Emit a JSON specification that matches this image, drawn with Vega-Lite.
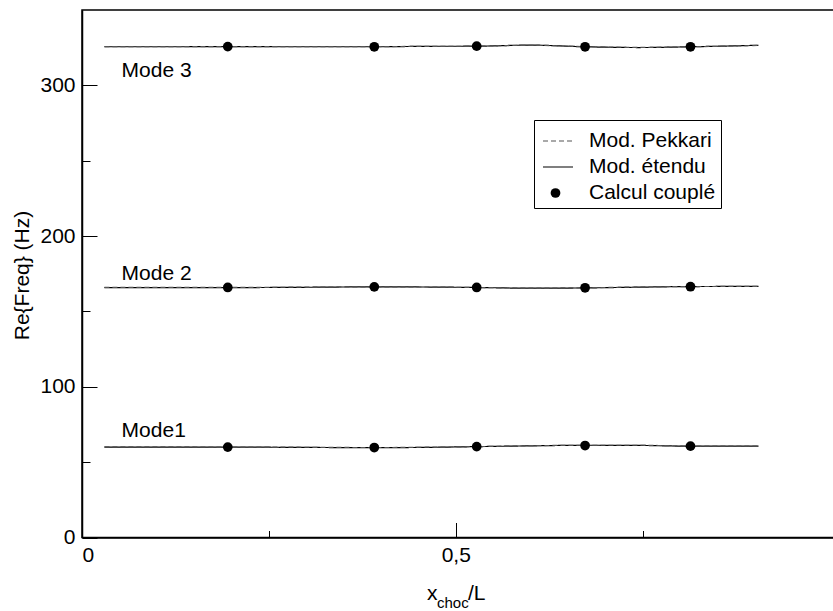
{
  "$schema": "https://vega.github.io/schema/vega-lite/v6.json",
  "width": 752,
  "height": 527.5,
  "autosize": {"type": "none"},
  "padding": {"left": 82, "top": 10, "right": 0, "bottom": 73},
  "background": "white",
  "config": {
    "view": {"stroke": "black", "strokeWidth": 1.5},
    "font": "Liberation Sans",
    "axis": {
      "grid": false,
      "domainColor": "black",
      "domainWidth": 1.5,
      "tickColor": "black",
      "tickWidth": 1,
      "labelFont": "Liberation Sans",
      "labelFontSize": 21,
      "labelColor": "black",
      "titleFont": "Liberation Sans",
      "titleFontSize": 21,
      "titleFontWeight": "normal",
      "titleColor": "black"
    },
    "legend": {
      "labelFont": "Liberation Sans",
      "labelColor": "black"
    }
  },
  "datasets": {
    "lines": [
      {"mode": "Mode 1", "model": "Mod. étendu", "x": 0.03, "y": 60.0},
      {"mode": "Mode 1", "model": "Mod. étendu", "x": 0.11, "y": 60.0},
      {"mode": "Mode 1", "model": "Mod. étendu", "x": 0.195, "y": 60.0},
      {"mode": "Mode 1", "model": "Mod. étendu", "x": 0.29, "y": 59.8},
      {"mode": "Mode 1", "model": "Mod. étendu", "x": 0.391, "y": 59.6},
      {"mode": "Mode 1", "model": "Mod. étendu", "x": 0.46, "y": 59.8},
      {"mode": "Mode 1", "model": "Mod. étendu", "x": 0.528, "y": 60.3},
      {"mode": "Mode 1", "model": "Mod. étendu", "x": 0.6, "y": 60.8},
      {"mode": "Mode 1", "model": "Mod. étendu", "x": 0.673, "y": 61.2},
      {"mode": "Mode 1", "model": "Mod. étendu", "x": 0.745, "y": 61.1},
      {"mode": "Mode 1", "model": "Mod. étendu", "x": 0.814, "y": 60.6},
      {"mode": "Mode 1", "model": "Mod. étendu", "x": 0.905, "y": 60.6},
      {"mode": "Mode 2", "model": "Mod. étendu", "x": 0.03, "y": 165.8},
      {"mode": "Mode 2", "model": "Mod. étendu", "x": 0.11, "y": 165.8},
      {"mode": "Mode 2", "model": "Mod. étendu", "x": 0.195, "y": 165.8},
      {"mode": "Mode 2", "model": "Mod. étendu", "x": 0.29, "y": 166.0},
      {"mode": "Mode 2", "model": "Mod. étendu", "x": 0.391, "y": 166.3},
      {"mode": "Mode 2", "model": "Mod. étendu", "x": 0.46, "y": 166.2},
      {"mode": "Mode 2", "model": "Mod. étendu", "x": 0.528, "y": 165.9},
      {"mode": "Mode 2", "model": "Mod. étendu", "x": 0.6, "y": 165.4},
      {"mode": "Mode 2", "model": "Mod. étendu", "x": 0.673, "y": 165.6},
      {"mode": "Mode 2", "model": "Mod. étendu", "x": 0.745, "y": 166.1},
      {"mode": "Mode 2", "model": "Mod. étendu", "x": 0.814, "y": 166.5},
      {"mode": "Mode 2", "model": "Mod. étendu", "x": 0.905, "y": 166.6},
      {"mode": "Mode 3", "model": "Mod. étendu", "x": 0.03, "y": 325.6},
      {"mode": "Mode 3", "model": "Mod. étendu", "x": 0.11, "y": 325.6},
      {"mode": "Mode 3", "model": "Mod. étendu", "x": 0.195, "y": 325.7},
      {"mode": "Mode 3", "model": "Mod. étendu", "x": 0.29, "y": 325.6},
      {"mode": "Mode 3", "model": "Mod. étendu", "x": 0.391, "y": 325.6},
      {"mode": "Mode 3", "model": "Mod. étendu", "x": 0.46, "y": 325.9},
      {"mode": "Mode 3", "model": "Mod. étendu", "x": 0.528, "y": 326.0},
      {"mode": "Mode 3", "model": "Mod. étendu", "x": 0.6, "y": 326.7},
      {"mode": "Mode 3", "model": "Mod. étendu", "x": 0.673, "y": 325.6},
      {"mode": "Mode 3", "model": "Mod. étendu", "x": 0.745, "y": 325.1},
      {"mode": "Mode 3", "model": "Mod. étendu", "x": 0.814, "y": 325.6},
      {"mode": "Mode 3", "model": "Mod. étendu", "x": 0.905, "y": 326.6},
      {"mode": "Mode 1", "model": "Mod. Pekkari", "x": 0.03, "y": 60.1},
      {"mode": "Mode 1", "model": "Mod. Pekkari", "x": 0.11, "y": 60.1},
      {"mode": "Mode 1", "model": "Mod. Pekkari", "x": 0.195, "y": 60.0},
      {"mode": "Mode 1", "model": "Mod. Pekkari", "x": 0.29, "y": 59.9},
      {"mode": "Mode 1", "model": "Mod. Pekkari", "x": 0.391, "y": 59.7},
      {"mode": "Mode 1", "model": "Mod. Pekkari", "x": 0.46, "y": 59.9},
      {"mode": "Mode 1", "model": "Mod. Pekkari", "x": 0.528, "y": 60.3},
      {"mode": "Mode 1", "model": "Mod. Pekkari", "x": 0.6, "y": 60.9},
      {"mode": "Mode 1", "model": "Mod. Pekkari", "x": 0.673, "y": 61.2},
      {"mode": "Mode 1", "model": "Mod. Pekkari", "x": 0.745, "y": 61.2},
      {"mode": "Mode 1", "model": "Mod. Pekkari", "x": 0.814, "y": 60.7},
      {"mode": "Mode 1", "model": "Mod. Pekkari", "x": 0.905, "y": 60.7},
      {"mode": "Mode 2", "model": "Mod. Pekkari", "x": 0.03, "y": 165.9},
      {"mode": "Mode 2", "model": "Mod. Pekkari", "x": 0.11, "y": 165.9},
      {"mode": "Mode 2", "model": "Mod. Pekkari", "x": 0.195, "y": 165.9},
      {"mode": "Mode 2", "model": "Mod. Pekkari", "x": 0.29, "y": 166.1},
      {"mode": "Mode 2", "model": "Mod. Pekkari", "x": 0.391, "y": 166.3},
      {"mode": "Mode 2", "model": "Mod. Pekkari", "x": 0.46, "y": 166.2},
      {"mode": "Mode 2", "model": "Mod. Pekkari", "x": 0.528, "y": 165.9},
      {"mode": "Mode 2", "model": "Mod. Pekkari", "x": 0.6, "y": 165.5},
      {"mode": "Mode 2", "model": "Mod. Pekkari", "x": 0.673, "y": 165.7},
      {"mode": "Mode 2", "model": "Mod. Pekkari", "x": 0.745, "y": 166.2},
      {"mode": "Mode 2", "model": "Mod. Pekkari", "x": 0.814, "y": 166.5},
      {"mode": "Mode 2", "model": "Mod. Pekkari", "x": 0.905, "y": 166.6},
      {"mode": "Mode 3", "model": "Mod. Pekkari", "x": 0.03, "y": 325.7},
      {"mode": "Mode 3", "model": "Mod. Pekkari", "x": 0.11, "y": 325.7},
      {"mode": "Mode 3", "model": "Mod. Pekkari", "x": 0.195, "y": 325.7},
      {"mode": "Mode 3", "model": "Mod. Pekkari", "x": 0.29, "y": 325.7},
      {"mode": "Mode 3", "model": "Mod. Pekkari", "x": 0.391, "y": 325.7},
      {"mode": "Mode 3", "model": "Mod. Pekkari", "x": 0.46, "y": 325.9},
      {"mode": "Mode 3", "model": "Mod. Pekkari", "x": 0.528, "y": 326.0},
      {"mode": "Mode 3", "model": "Mod. Pekkari", "x": 0.6, "y": 326.6},
      {"mode": "Mode 3", "model": "Mod. Pekkari", "x": 0.673, "y": 325.7},
      {"mode": "Mode 3", "model": "Mod. Pekkari", "x": 0.745, "y": 325.2},
      {"mode": "Mode 3", "model": "Mod. Pekkari", "x": 0.814, "y": 325.6},
      {"mode": "Mode 3", "model": "Mod. Pekkari", "x": 0.905, "y": 326.5}
    ],
    "points": [
      {"mode": "Mode 1", "model": "Calcul couplé", "x": 0.195, "y": 60.0},
      {"mode": "Mode 1", "model": "Calcul couplé", "x": 0.391, "y": 59.7},
      {"mode": "Mode 1", "model": "Calcul couplé", "x": 0.528, "y": 60.3},
      {"mode": "Mode 1", "model": "Calcul couplé", "x": 0.673, "y": 61.0},
      {"mode": "Mode 1", "model": "Calcul couplé", "x": 0.814, "y": 60.6},
      {"mode": "Mode 2", "model": "Calcul couplé", "x": 0.195, "y": 165.9},
      {"mode": "Mode 2", "model": "Calcul couplé", "x": 0.391, "y": 166.3},
      {"mode": "Mode 2", "model": "Calcul couplé", "x": 0.528, "y": 165.9},
      {"mode": "Mode 2", "model": "Calcul couplé", "x": 0.673, "y": 165.7},
      {"mode": "Mode 2", "model": "Calcul couplé", "x": 0.814, "y": 166.4},
      {"mode": "Mode 3", "model": "Calcul couplé", "x": 0.195, "y": 325.7},
      {"mode": "Mode 3", "model": "Calcul couplé", "x": 0.391, "y": 325.6},
      {"mode": "Mode 3", "model": "Calcul couplé", "x": 0.528, "y": 326.0},
      {"mode": "Mode 3", "model": "Calcul couplé", "x": 0.673, "y": 325.6},
      {"mode": "Mode 3", "model": "Calcul couplé", "x": 0.814, "y": 325.6}
    ],
    "labels": [
      {"text": "Mode1", "x": 0.053, "y": 67.0},
      {"text": "Mode 2", "x": 0.053, "y": 171.1},
      {"text": "Mode 3", "x": 0.053, "y": 305.3}
    ],
    "xtitle": [
      {"text": "x", "x": 0.4615, "y": -41.5},
      {"text": "/L", "x": 0.5164, "y": -41.5}
    ],
    "xtitlesub": [
      {"text": "choc", "x": 0.4749, "y": -46.8}
    ]
  },
  "layer": [
    {
      "data": {"name": "lines"},
      "mark": {"type": "line", "interpolate": "monotone", "strokeWidth": 1.2},
      "encoding": {
        "x": {
          "field": "x", "type": "quantitative",
          "scale": {"domain": [0, 1.006], "nice": false, "zero": false},
          "axis": {
            "values": [0, 0.25, 0.5, 0.75],
            "labelExpr": "datum.value == 0 ? '0' : (datum.value == 0.5 ? '0,5' : '')",
            "tickSize": {"condition": {"test": "datum.value == 0.5 || datum.value == 0", "value": -15}, "value": -7},
            "labelPadding": 22,
            "title": null
          }
        },
        "y": {
          "field": "y", "type": "quantitative",
          "scale": {"domain": [0, 350], "nice": false},
          "axis": {
            "values": [0, 50, 100, 150, 200, 250, 300],
            "labelExpr": "datum.value % 100 == 0 ? datum.label : ''",
            "tickSize": {"condition": {"test": "datum.value % 100 == 0", "value": -15}, "value": -8},
            "labelPadding": 22,
            "title": "Re{Freq} (Hz)",
            "titleAngle": 270,
            "titleBaseline": "alphabetic",
            "titleAlign": "center",
            "titleX": -54,
            "titleY": 265
          }
        },
        "detail": {"field": "mode"},
        "strokeDash": {
          "field": "model", "type": "nominal",
          "scale": {"domain": ["Mod. Pekkari", "Mod. étendu", "Calcul couplé"], "range": [[5, 3], [1, 0], [0, 100]]},
          "legend": {
            "title": null, "orient": "none", "legendX": 452, "legendY": 110,
            "strokeColor": "black", "padding": 5, "symbolOffset": 3,
            "symbolType": "stroke", "symbolSize": 900, "symbolStrokeWidth": 1.2,
            "labelFontSize": 21, "labelOffset": 15, "rowPadding": -4.7
          }
        },
        "stroke": {
          "field": "model", "type": "nominal",
          "scale": {"domain": ["Mod. Pekkari", "Mod. étendu", "Calcul couplé"], "range": ["#555555", "#000000", "#000000"]},
          "legend": {
            "title": null, "orient": "none", "legendX": 452, "legendY": 110,
            "strokeColor": "black", "padding": 5, "symbolOffset": 3,
            "symbolType": "stroke", "symbolSize": 900, "symbolStrokeWidth": 1.2,
            "labelFontSize": 21, "labelOffset": 15, "rowPadding": -4.7
          }
        }
      }
    },
    {
      "data": {"name": "points"},
      "mark": {"type": "circle", "size": 95, "opacity": 1},
      "encoding": {
        "x": {"field": "x", "type": "quantitative"},
        "y": {"field": "y", "type": "quantitative"},
        "color": {
          "field": "model", "type": "nominal",
          "scale": {"domain": ["Calcul couplé"], "range": ["#000000"]},
          "legend": {
            "title": null, "orient": "none", "legendX": 467.5, "legendY": 177,
            "labelExpr": "''", "labelFontSize": 1, "padding": 0,
            "symbolSize": 95, "symbolType": "circle", "symbolOpacity": 1
          }
        }
      }
    },
    {
      "data": {"name": "labels"},
      "mark": {"type": "text", "align": "left", "baseline": "alphabetic", "fontSize": 21, "font": "Liberation Sans", "color": "black"},
      "encoding": {
        "x": {"field": "x", "type": "quantitative"},
        "y": {"field": "y", "type": "quantitative"},
        "text": {"field": "text"}
      }
    },
    {
      "data": {"name": "xtitle"},
      "mark": {"type": "text", "align": "left", "baseline": "alphabetic", "fontSize": 21, "font": "Liberation Sans", "color": "black"},
      "encoding": {
        "x": {"field": "x", "type": "quantitative"},
        "y": {"field": "y", "type": "quantitative"},
        "text": {"field": "text"}
      }
    },
    {
      "data": {"name": "xtitlesub"},
      "mark": {"type": "text", "align": "left", "baseline": "alphabetic", "fontSize": 15, "font": "Liberation Sans", "color": "black"},
      "encoding": {
        "x": {"field": "x", "type": "quantitative"},
        "y": {"field": "y", "type": "quantitative"},
        "text": {"field": "text"}
      }
    }
  ]
}
